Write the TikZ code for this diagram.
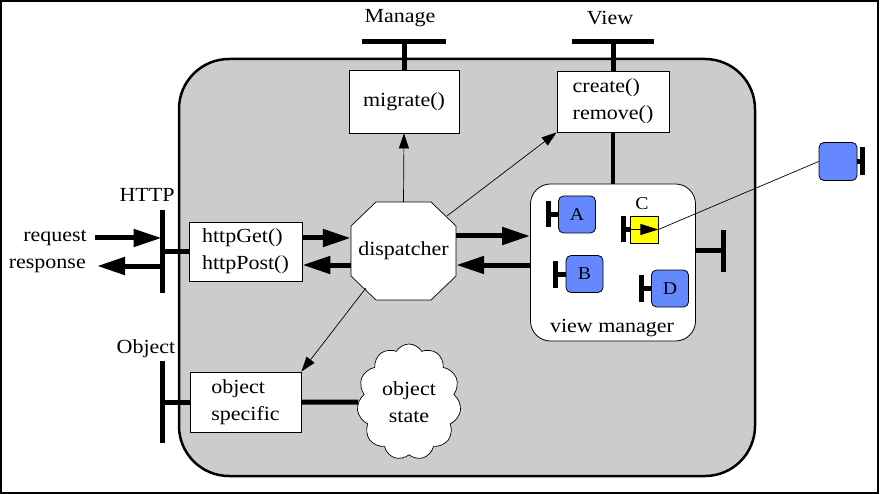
\documentclass[tikz,border=0pt]{standalone}
\usepackage{fontspec}
\setmainfont{Liberation Serif}[FakeStretch=1.1]
\usetikzlibrary{arrows.meta,shapes.symbols,calc}
\definecolor{bgray}{RGB}{204,204,204}
\definecolor{compblue}{RGB}{102,136,255}
\definecolor{compyellow}{RGB}{255,255,0}
\begin{document}
\begin{tikzpicture}[x=1pt,y=-1pt,
  every node/.style={font=\fontsize{20}{27}\selectfont, inner sep=0pt},
  box/.style={draw, fill=white, line width=0.8pt, align=left},
  bar/.style={line width=5pt},
  thickarr/.style={line width=5pt, -{Triangle[length=28pt,width=17pt]}},
  thinarr/.style={line width=0.7pt, -{Triangle[length=15pt,width=10pt]}},
  comp/.style={draw, fill=compblue, rounded corners=5pt, minimum width=37pt, minimum height=37pt, line width=0.8pt, font=\fontsize{18}{20}\selectfont},
]
\useasboundingbox (0,0) rectangle (880,494);
\draw[line width=2pt] (1,1) rectangle (878,493);

% main rounded container
\draw[fill=bgray, line width=2.5pt, rounded corners=50pt] (179,59) rectangle (755,476);

% top labels
\node (manage) at (400,18) {Manage};
\node (view) at (610,18) {View};

% boxes
\node[box, minimum width=110pt, minimum height=63pt] (mig) at (404,101.5) {migrate()};
\node[box, minimum width=112pt, minimum height=61pt] (create) at (613,101.5) {create()\\remove()};
\node[box, minimum width=113pt, minimum height=59pt] (http) at (245.5,251.5) {httpGet()\\httpPost()};
\node[box, minimum width=111pt, minimum height=60pt] (obj) at (245.5,402) {object\\specific};

% dispatcher octagon
\draw[fill=white, line width=0.7pt] (376,202) -- (431,202) -- (456,226) -- (456,276) -- (431,300) -- (376,300) -- (351,276) -- (351,226) -- cycle;
\node[minimum width=105pt, minimum height=98pt] (disp) at (403.5,251) {dispatcher};

% cloud
\node[cloud, draw, fill=white, line width=0.7pt, cloud puffs=11, cloud puff arc=120, minimum width=104pt, minimum height=116pt, cloud ignores aspect, align=center] (cloud) at (409,402) {object\\state};

% view manager
\node[draw, fill=white, rounded corners=20pt, minimum width=165pt, minimum height=157pt, line width=0.8pt] (vm) at (613,262.5) {};
\node (vmlbl) at (612,328) {view manager};
\node[comp] (A) at (577,214.5) {A};
\node[comp] (B) at (584.5,274) {B};
\node[comp] (D) at (670,288.5) {D};
\node[draw, fill=compyellow, line width=0.8pt, minimum width=28pt, minimum height=27pt] (C) at (644,229.5) {};
\node[font=\fontsize{18}{20}\selectfont] (Clbl) at (642,204) {C};
\node[comp, minimum width=38pt, minimum height=38pt] (ext) at (838,161.5) {};

% T bars of components
\foreach \n/\d/\h in {A/10/13, B/10/13.5, D/10/13.5, C/6/13} {
  \coordinate (\n t) at ([xshift=-\d pt]\n.west);
  \draw[bar] (\n t) -- (\n.west);
  \draw[bar] ([yshift=-\h pt]\n t) -- ([yshift=\h pt]\n t);
}
\coordinate (extt) at ([xshift=5pt]ext.east);
\draw[bar] (ext.east) -- (extt);
\draw[bar] ([yshift=-14pt]extt) -- ([yshift=14pt]extt);

% C arrow and link to external component
\draw[line width=0.8pt, -{Triangle[length=18pt,width=11pt]}] (C.west) -- (C.east);
\draw[line width=0.7pt] (C.east) -- (ext.west);

% Manage / View T bars
\coordinate (mt) at ([yshift=28pt]mig.north);
\draw[bar] (mig.north) -- (mt);
\draw[bar] ([xshift=-42pt]mt) -- ([xshift=42pt]mt);
\coordinate (vt) at ([yshift=29pt]create.north);
\draw[bar] (create.north) -- (vt);
\draw[bar] ([xshift=-41pt]vt) -- ([xshift=41pt]vt);
\draw[line width=4pt] (create.south) -- (vm.north);

% view manager right T
\coordinate (vr) at ([shift={(28,-11.5)}]vm.east);
\draw[bar] ([shift={(0,-11.5)}]vm.east) -- (vr);
\draw[bar] ([yshift=-21pt]vr) -- ([yshift=21pt]vr);

% HTTP interface
\node (httplbl) at (147,195) {HTTP};
\coordinate (hb) at ([xshift=-26pt]http.west);
\draw[bar] ([yshift=-41pt]hb) -- ([yshift=41pt]hb);
\draw[bar] (hb) -- (http.west);
\node[anchor=east] (req) at (87,238) {request};
\node[anchor=east] (resp) at (86,266) {response};
\draw[thickarr, shorten >=1pt] ([xshift=8pt]req.east) -- (hb |- req.east);
\draw[thickarr] (hb |- resp.east) -- ([xshift=11pt]resp.east);

% Object interface
\node (objlbl) at (146,349) {Object};
\coordinate (ob) at ([xshift=-27pt]obj.west);
\draw[bar] ([yshift=-41pt]ob) -- ([yshift=41pt]ob);
\draw[bar] (ob) -- (obj.west);
\draw[bar] (obj.east) -- (cloud.west);

% thick arrows
\coordinate (h1) at ([yshift=13.5pt]http.east);
\coordinate (h2) at ([yshift=-13.5pt]http.east);
\draw[thickarr] (h1) -- (h1 -| disp.west);
\draw[thickarr] (h2 -| disp.west) -- (h2);
\coordinate (d1) at ([yshift=15pt]disp.east);
\coordinate (d2) at ([yshift=-14pt]disp.east);
\draw[thickarr] (d1) -- (d1 -| vm.west);
\draw[thickarr] (d2 -| vm.west) -- (d2);

% thin arrows
\draw[thinarr] (disp.north) -- (mig.south);
\draw[thinarr] ([shift={(-9,14)}]disp.north east) -- (create.south west);
\draw[thinarr] ([shift={(15,-12)}]disp.south west) -- (obj.north east);
\end{tikzpicture}
\end{document}
